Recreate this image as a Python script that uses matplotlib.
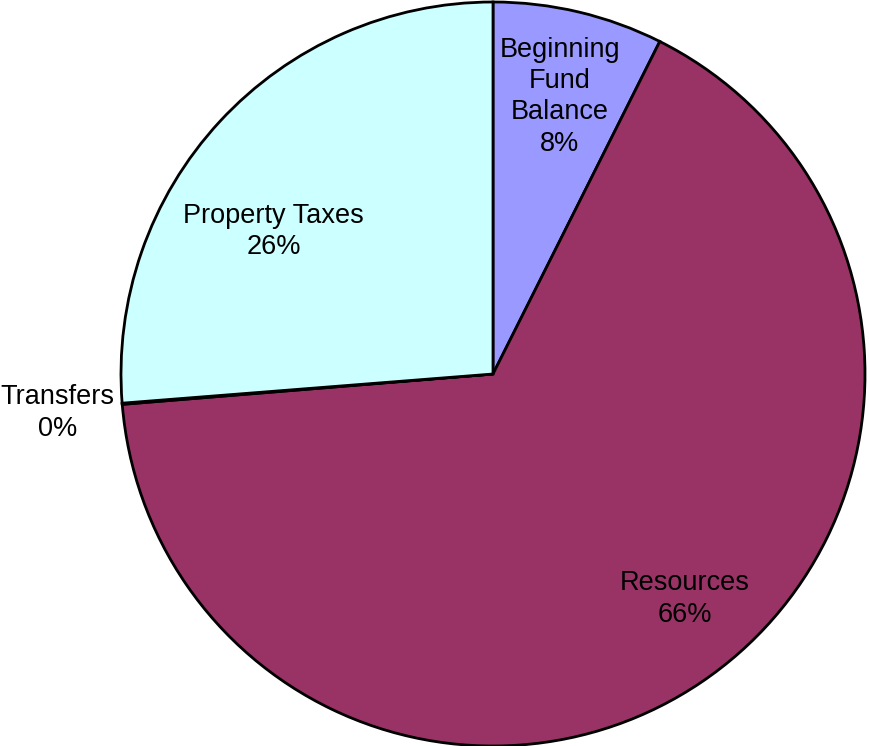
import matplotlib.pyplot as plt

plt.rcParams["font.family"] = ["Liberation Sans", "DejaVu Sans"]

# Slice data, clockwise from 12 o'clock
categories = ["Beginning\nFund\nBalance", "Resources", "Transfers", "Property Taxes"]
shares = [7.4, 66.3, 0.05, 26.25]
pct_labels = ["8%", "66%", "0%", "26%"]
colors = ["#9999FF", "#993366", "#FFFFCC", "#CCFFFF"]

# label anchor positions (in units of the pie radius)
label_pos = [(0.18, 0.745), (0.515, -0.605), (-1.17, -0.105), (-0.59, 0.382)]

W, H = 869, 746
fig = plt.figure(figsize=(W / 100, H / 100), dpi=100)
cx, cy, r = 493, 374, 372
ax = fig.add_axes([(cx - r) / W, (H - cy - r) / H, 2 * r / W, 2 * r / H])

ax.pie(
    shares,
    colors=colors,
    startangle=90,
    counterclock=False,
    radius=1.0,
    wedgeprops=dict(edgecolor="black", linewidth=2.0),
)
ax.set_xlim(-1, 1)
ax.set_ylim(-1, 1)
ax.set_aspect("equal")
ax.axis("off")

for name, pct, (x, y) in zip(categories, pct_labels, label_pos):
    ax.text(x, y, f"{name}\n{pct}", ha="center", va="center",
            fontsize=19.5, linespacing=1.26, clip_on=False)

fig.savefig("out.png", dpi=100)
